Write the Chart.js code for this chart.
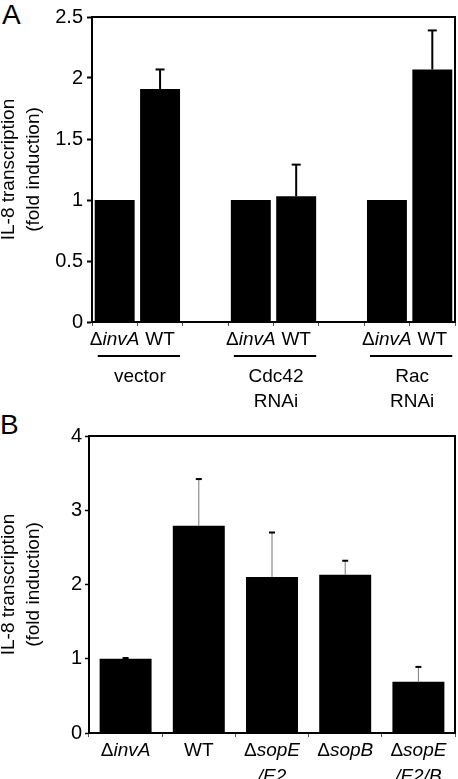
<!DOCTYPE html>
<html>
<head>
<meta charset="utf-8">
<script src="https://cdn.jsdelivr.net/npm/chart.js@4.4.1/dist/chart.umd.min.js"></script>
<style>
  body { margin: 0; background: #fff; width: 458px; height: 779px; position: relative; overflow: hidden; }
  canvas { position: absolute; left: 0; }
  #cA { top: 0; }
  #cB { top: 410px; }
  .panel { position: absolute; font: 28px 'Liberation Sans', Arial, sans-serif; line-height: 28px; color: #000; }
</style>
</head>
<body>
<div class="panel" style="left:2px; top:1px">A</div>
<div class="panel" style="left:0px; top:411px">B</div>
<canvas id="cA" width="458" height="410"></canvas>
<canvas id="cB" width="458" height="369"></canvas>
<script>
// --- panel A data ---
const labelsA = ['ΔinvA', 'WT', '', 'ΔinvA', 'WT', '', 'ΔinvA', 'WT'];
const valuesA = [1, 1.91, null, 1, 1.03, null, 1, 2.07];
const errorsA = [0, 0.16, null, 0, 0.26, null, 0, 0.32];
const groupsA = [[0, 1], [3, 4], [6, 7]];
const groupNamesA = [['vector'], ['Cdc42', 'RNAi'], ['Rac', 'RNAi']];
const ticksA = [0, 0.5, 1, 1.5, 2, 2.5];

// --- panel B data ---
const labelsB = [['ΔinvA'], ['WT'], ['ΔsopE', '/E2'], ['ΔsopB'], ['ΔsopE', '/E2/B']];
const valuesB = [1, 2.79, 2.10, 2.13, 0.69];
const errorsB = [0.01, 0.63, 0.60, 0.19, 0.20];
const ticksB = [0, 1, 2, 3, 4];

const FONT = "'Liberation Sans', Arial, sans-serif";
const yTitle = ['IL-8 transcription', '(fold induction)'];

Chart.defaults.font.family = FONT;
Chart.defaults.font.size = 19;
Chart.defaults.color = '#000';

// strain names: delta upright, the rest italic (WT stays upright)
function drawStrain(ctx, text, cx, y) {
  const parts = [];
  if (text === 'WT') parts.push([text, '']);
  else if (text.startsWith('Δ')) { parts.push(['Δ', '']); parts.push([text.slice(1), 'italic ']); }
  else parts.push([text, 'italic ']);
  let w = 0;
  parts.forEach(p => { ctx.font = p[1] + '19px ' + FONT; w += ctx.measureText(p[0]).width; });
  let x = cx - w / 2;
  parts.forEach(p => {
    ctx.font = p[1] + '19px ' + FONT;
    ctx.fillText(p[0], x, y);
    x += ctx.measureText(p[0]).width;
  });
}

const extras = {
  id: 'extras',
  afterDatasetsDraw(chart, args, o) {
    const ctx = chart.ctx;
    const {top, right, bottom} = chart.chartArea;
    const meta = chart.getDatasetMeta(0);
    const y = chart.scales.y;
    ctx.save();
    // frame top and right
    ctx.strokeStyle = '#000';
    ctx.lineWidth = 2;
    ctx.beginPath();
    ctx.moveTo(chart.chartArea.left, top);
    ctx.lineTo(right, top);
    ctx.lineTo(right, bottom);
    ctx.stroke();

    // error bars
    o.errors.forEach((e, i) => {
      const v = chart.data.datasets[0].data[i];
      if (!e || v == null) return;
      const bx = meta.data[i].x;
      const y0 = y.getPixelForValue(v);
      const y1 = y.getPixelForValue(v + e);
      ctx.strokeStyle = o.stemColor;
      ctx.lineWidth = o.stemWidth;
      ctx.beginPath(); ctx.moveTo(bx, y0); ctx.lineTo(bx, y1); ctx.stroke();
      ctx.strokeStyle = '#000';
      ctx.lineWidth = 2;
      ctx.beginPath(); ctx.moveTo(bx - o.cap / 2, y1); ctx.lineTo(bx + o.cap / 2, y1); ctx.stroke();
    });

    // strain labels
    ctx.fillStyle = '#000';
    ctx.textBaseline = 'alphabetic';
    chart.data.labels.forEach((lab, i) => {
      const lines = Array.isArray(lab) ? lab : [lab];
      const cx = chart.scales.x.getPixelForValue(i);
      lines.forEach((t, k) => { if (t) drawStrain(ctx, t, cx, o.labelY + k * o.lineGap); });
    });

    // group underlines + names
    if (o.groups) {
      ctx.textAlign = 'center';
      o.groups.forEach((g, gi) => {
        const a = meta.data[g[0]], b = meta.data[g[1]];
        const x0 = a.x - a.width / 2 + 3, x1 = b.x + b.width / 2;
        ctx.lineWidth = 2;
        ctx.beginPath(); ctx.moveTo(x0, o.lineY); ctx.lineTo(x1, o.lineY); ctx.stroke();
        ctx.font = '19px ' + FONT;
        o.groupNames[gi].forEach((t, k) => ctx.fillText(t, (x0 + x1) / 2 + 1, o.groupY + k * 25));
      });
    }
    ctx.restore();
  }
};

function makeChart(id, labels, values, ticks, bar, yw, xh, padTop, tickLen, tickW, plug) {
  return new Chart(document.getElementById(id), {
    type: 'bar',
    data: {
      labels: labels,
      datasets: [{ data: values, backgroundColor: '#000', borderWidth: 0,
                   barPercentage: bar, categoryPercentage: 1 }]
    },
    options: {
      responsive: false,
      animation: false,
      devicePixelRatio: 1,
      layout: { padding: { top: padTop, right: 3, left: 0, bottom: 0 } },
      plugins: { legend: { display: false }, tooltip: { enabled: false }, extras: plug },
      scales: {
        x: {
          grid: { drawOnChartArea: false, drawTicks: true, tickLength: 4, tickColor: '#555', tickWidth: 1 },
          border: { display: true, color: '#000', width: 2 },
          ticks: { display: false },
          afterFit: s => { s.height = xh; }
        },
        y: {
          min: ticks[0], max: ticks[ticks.length - 1],
          afterBuildTicks: s => { s.ticks = ticks.map(v => ({ value: v })); },
          grid: { drawOnChartArea: false, drawTicks: true, tickLength: tickLen, tickColor: '#000', tickWidth: tickW },
          border: { display: true, color: '#000', width: 2 },
          ticks: { padding: tickLen === 5 ? 4 : 3, font: { size: 20 }, callback: v => String(v) },
          title: { display: true, text: yTitle, font: { size: 19, lineHeight: 1.32 }, padding: { top: -4, bottom: 0 } },
          afterFit: s => { s.width = yw; }
        }
      }
    },
    plugins: [extras]
  });
}

makeChart('cA', labelsA, valuesA, ticksA, 0.88, 92, 88, 17, 5, 2, {
  errors: errorsA, stemColor: '#000', stemWidth: 2, cap: 9,
  labelY: 345, lineGap: 26,
  groups: groupsA, groupNames: groupNamesA, lineY: 356, groupY: 382
});

makeChart('cB', labelsB, valuesB, ticksB, 0.71, 89, 46, 26, 4, 1.5, {
  errors: errorsB, stemColor: '#777', stemWidth: 1, cap: 6,
  labelY: 346, lineGap: 26
});
</script>
</body>
</html>
